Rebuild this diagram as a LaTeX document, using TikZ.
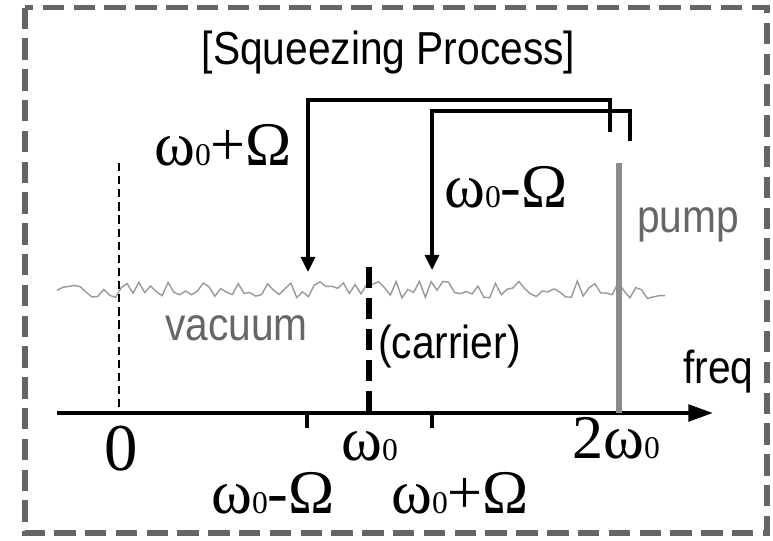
\documentclass[tikz,border=0pt]{standalone}
\usepackage{fontspec}
\setmainfont{Liberation Sans}
\newfontfamily\grkfont{Liberation Serif}
\usepackage{tikz}
\usetikzlibrary{arrows.meta}
\newcommand{\wz}{ω{\fontsize{27}{28}\selectfont 0}}

\begin{document}
\begin{tikzpicture}[x=0.3mm,y=-0.3mm,line join=miter,
  lbl/.style={inner sep=0pt,xscale=0.88,font=\fontsize{39.5}{44}\selectfont},
  glbl/.style={lbl,text=black!60},
  sym/.style={inner sep=0pt,font=\grkfont\fontsize{53}{58}\selectfont},
  jump/.style={line width=2.8pt,-{Triangle[length=13pt,width=12pt]}},
  frame/.style={draw=black!60,line width=4.7pt,dash pattern=on 18.3pt off 8pt},
  noise/.style={draw=black!40,line width=1.2pt,line join=miter},
  axisline/.style={line width=3.4pt,-{Triangle[length=21pt,width=14pt]}}]
\useasboundingbox (0,0) rectangle (773,540);
\draw[frame] (25,7.5) rectangle (767,533);
\node[lbl,anchor=base] (title) at (388.5,64) {[Squeezing Process]};
% vacuum noise floor
\pgfmathsetseed{11}
\draw[noise] plot[domain=57:665,samples=105] (\x,{290+9*rand});
\node[glbl,anchor=base west] (vac) at (165,340) {vacuum};
% frequency axis
\coordinate (ax0) at (57,413);
\coordinate (ax1) at (713,413);
\draw[axisline] (ax0) -- (ax1);
\node[lbl,anchor=base west] (freq) at (683,383) {freq};
% zero, carrier and pump lines
\coordinate (zt) at (119,163);
\coordinate (zb) at (119,413);
\draw[line width=1.2pt,dash pattern=on 7pt off 4.2pt] (zt) -- (zb);
\coordinate (ct) at (369,267);
\coordinate (cb) at (369,413);
\draw[line width=5.5pt,dash pattern=on 18pt off 8.5pt] (ct) -- (cb);
\node[lbl,anchor=base west] (carr) at (378,358) {(carrier)};
\coordinate (pt) at (619,163);
\coordinate (pb) at (619,413);
\draw[line width=5.5pt,black!45] (pt) -- (pb);
\node[glbl,anchor=base west] (pump) at (637,232) {pump};
% sideband ticks
\coordinate (lo) at (307,413);
\coordinate (hi) at (432,413);
\draw[line width=3.4pt] (lo) -- ++(0,15) (hi) -- ++(0,15);
% pump photon split into the two sidebands
\coordinate (s1) at (610,132);
\coordinate (s2) at (630,141);
\coordinate (e1) at (308,272);
\coordinate (e2) at (432,270);
\draw[jump] (s1) |- (308,100) -- (e1);
\draw[jump] (s2) |- (432,111) -- (e2);
\node[sym,anchor=base west] (up) at (154,165) {\wz+Ω};
\node[sym,anchor=base west] (um) at (444,207) {\wz-Ω};
% axis labels
\node[sym,anchor=base,font=\grkfont\fontsize{57}{60}\selectfont] (zero) at (121,470) {0};
\node[sym,anchor=base west] (w0) at (341,460) {\wz};
\node[sym,anchor=base west] (w2) at (572,458) {2\wz};
\node[sym,anchor=base west] (lm) at (211,513) {\wz-Ω};
\node[sym,anchor=base west] (lp) at (391,513) {\wz+Ω};
\end{tikzpicture}
\end{document}
